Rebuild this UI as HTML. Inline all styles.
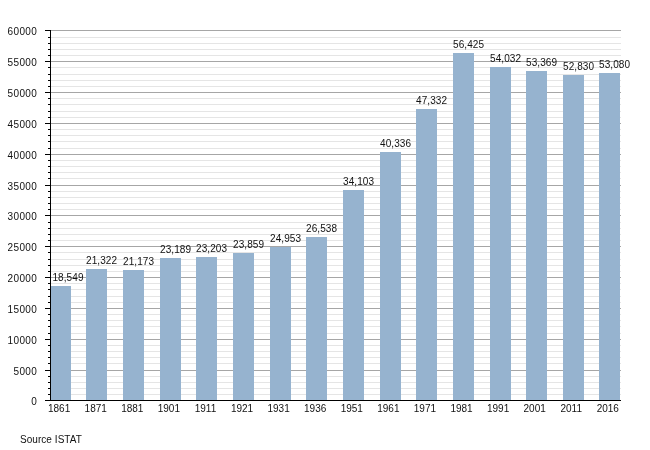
<!DOCTYPE html><html><head><meta charset="utf-8"><style>html,body{margin:0;padding:0;background:#fff;overflow:hidden;}svg{display:block;will-change:transform;}text{font-family:"Liberation Sans",sans-serif;}</style></head><body>
<svg width="650" height="450" viewBox="0 0 650 450" shape-rendering="crispEdges">
<rect width="650" height="450" fill="#fff"/>
<rect x="51" y="394" width="570" height="1" fill="#e5e5e5"/>
<rect x="51" y="388" width="570" height="1" fill="#e5e5e5"/>
<rect x="51" y="382" width="570" height="1" fill="#e5e5e5"/>
<rect x="51" y="376" width="570" height="1" fill="#e5e5e5"/>
<rect x="51" y="370" width="570" height="1" fill="#a6a6a6"/>
<rect x="51" y="363" width="570" height="1" fill="#e5e5e5"/>
<rect x="51" y="357" width="570" height="1" fill="#e5e5e5"/>
<rect x="51" y="351" width="570" height="1" fill="#e5e5e5"/>
<rect x="51" y="345" width="570" height="1" fill="#e5e5e5"/>
<rect x="51" y="339" width="570" height="1" fill="#a6a6a6"/>
<rect x="51" y="333" width="570" height="1" fill="#e5e5e5"/>
<rect x="51" y="326" width="570" height="1" fill="#e5e5e5"/>
<rect x="51" y="320" width="570" height="1" fill="#e5e5e5"/>
<rect x="51" y="314" width="570" height="1" fill="#e5e5e5"/>
<rect x="51" y="308" width="570" height="1" fill="#a6a6a6"/>
<rect x="51" y="302" width="570" height="1" fill="#e5e5e5"/>
<rect x="51" y="296" width="570" height="1" fill="#e5e5e5"/>
<rect x="51" y="289" width="570" height="1" fill="#e5e5e5"/>
<rect x="51" y="283" width="570" height="1" fill="#e5e5e5"/>
<rect x="51" y="277" width="570" height="1" fill="#a6a6a6"/>
<rect x="51" y="271" width="570" height="1" fill="#e5e5e5"/>
<rect x="51" y="265" width="570" height="1" fill="#e5e5e5"/>
<rect x="51" y="259" width="570" height="1" fill="#e5e5e5"/>
<rect x="51" y="252" width="570" height="1" fill="#e5e5e5"/>
<rect x="51" y="246" width="570" height="1" fill="#a6a6a6"/>
<rect x="51" y="240" width="570" height="1" fill="#e5e5e5"/>
<rect x="51" y="234" width="570" height="1" fill="#e5e5e5"/>
<rect x="51" y="228" width="570" height="1" fill="#e5e5e5"/>
<rect x="51" y="222" width="570" height="1" fill="#e5e5e5"/>
<rect x="51" y="215" width="570" height="1" fill="#a6a6a6"/>
<rect x="51" y="209" width="570" height="1" fill="#e5e5e5"/>
<rect x="51" y="203" width="570" height="1" fill="#e5e5e5"/>
<rect x="51" y="197" width="570" height="1" fill="#e5e5e5"/>
<rect x="51" y="191" width="570" height="1" fill="#e5e5e5"/>
<rect x="51" y="185" width="570" height="1" fill="#a6a6a6"/>
<rect x="51" y="178" width="570" height="1" fill="#e5e5e5"/>
<rect x="51" y="172" width="570" height="1" fill="#e5e5e5"/>
<rect x="51" y="166" width="570" height="1" fill="#e5e5e5"/>
<rect x="51" y="160" width="570" height="1" fill="#e5e5e5"/>
<rect x="51" y="154" width="570" height="1" fill="#a6a6a6"/>
<rect x="51" y="148" width="570" height="1" fill="#e5e5e5"/>
<rect x="51" y="141" width="570" height="1" fill="#e5e5e5"/>
<rect x="51" y="135" width="570" height="1" fill="#e5e5e5"/>
<rect x="51" y="129" width="570" height="1" fill="#e5e5e5"/>
<rect x="51" y="123" width="570" height="1" fill="#a6a6a6"/>
<rect x="51" y="117" width="570" height="1" fill="#e5e5e5"/>
<rect x="51" y="111" width="570" height="1" fill="#e5e5e5"/>
<rect x="51" y="104" width="570" height="1" fill="#e5e5e5"/>
<rect x="51" y="98" width="570" height="1" fill="#e5e5e5"/>
<rect x="51" y="92" width="570" height="1" fill="#a6a6a6"/>
<rect x="51" y="86" width="570" height="1" fill="#e5e5e5"/>
<rect x="51" y="80" width="570" height="1" fill="#e5e5e5"/>
<rect x="51" y="74" width="570" height="1" fill="#e5e5e5"/>
<rect x="51" y="67" width="570" height="1" fill="#e5e5e5"/>
<rect x="51" y="61" width="570" height="1" fill="#a6a6a6"/>
<rect x="51" y="55" width="570" height="1" fill="#e5e5e5"/>
<rect x="51" y="49" width="570" height="1" fill="#e5e5e5"/>
<rect x="51" y="43" width="570" height="1" fill="#e5e5e5"/>
<rect x="51" y="37" width="570" height="1" fill="#e5e5e5"/>
<rect x="51" y="30" width="570" height="1" fill="#a6a6a6"/>
<rect x="50" y="286" width="21" height="114" fill="#96b3cf"/>
<rect x="86" y="269" width="21" height="131" fill="#96b3cf"/>
<rect x="123" y="270" width="21" height="130" fill="#96b3cf"/>
<rect x="160" y="258" width="21" height="142" fill="#96b3cf"/>
<rect x="196" y="257" width="21" height="143" fill="#96b3cf"/>
<rect x="233" y="253" width="21" height="147" fill="#96b3cf"/>
<rect x="270" y="247" width="21" height="153" fill="#96b3cf"/>
<rect x="306" y="237" width="21" height="163" fill="#96b3cf"/>
<rect x="343" y="190" width="21" height="210" fill="#96b3cf"/>
<rect x="380" y="152" width="21" height="248" fill="#96b3cf"/>
<rect x="416" y="109" width="21" height="291" fill="#96b3cf"/>
<rect x="453" y="53" width="21" height="347" fill="#96b3cf"/>
<rect x="490" y="67" width="21" height="333" fill="#96b3cf"/>
<rect x="526" y="71" width="21" height="329" fill="#96b3cf"/>
<rect x="563" y="75" width="21" height="325" fill="#96b3cf"/>
<rect x="599" y="73" width="21" height="327" fill="#96b3cf"/>
<rect x="50" y="30" width="1" height="371" fill="#000"/>
<rect x="45" y="400" width="576" height="1" fill="#000"/>
<rect x="45" y="400" width="5" height="1" fill="#000"/>
<rect x="48" y="394" width="2" height="1" fill="#000"/>
<rect x="48" y="388" width="2" height="1" fill="#000"/>
<rect x="48" y="382" width="2" height="1" fill="#000"/>
<rect x="48" y="376" width="2" height="1" fill="#000"/>
<rect x="45" y="370" width="5" height="1" fill="#000"/>
<rect x="48" y="363" width="2" height="1" fill="#000"/>
<rect x="48" y="357" width="2" height="1" fill="#000"/>
<rect x="48" y="351" width="2" height="1" fill="#000"/>
<rect x="48" y="345" width="2" height="1" fill="#000"/>
<rect x="45" y="339" width="5" height="1" fill="#000"/>
<rect x="48" y="333" width="2" height="1" fill="#000"/>
<rect x="48" y="326" width="2" height="1" fill="#000"/>
<rect x="48" y="320" width="2" height="1" fill="#000"/>
<rect x="48" y="314" width="2" height="1" fill="#000"/>
<rect x="45" y="308" width="5" height="1" fill="#000"/>
<rect x="48" y="302" width="2" height="1" fill="#000"/>
<rect x="48" y="296" width="2" height="1" fill="#000"/>
<rect x="48" y="289" width="2" height="1" fill="#000"/>
<rect x="48" y="283" width="2" height="1" fill="#000"/>
<rect x="45" y="277" width="5" height="1" fill="#000"/>
<rect x="48" y="271" width="2" height="1" fill="#000"/>
<rect x="48" y="265" width="2" height="1" fill="#000"/>
<rect x="48" y="259" width="2" height="1" fill="#000"/>
<rect x="48" y="252" width="2" height="1" fill="#000"/>
<rect x="45" y="246" width="5" height="1" fill="#000"/>
<rect x="48" y="240" width="2" height="1" fill="#000"/>
<rect x="48" y="234" width="2" height="1" fill="#000"/>
<rect x="48" y="228" width="2" height="1" fill="#000"/>
<rect x="48" y="222" width="2" height="1" fill="#000"/>
<rect x="45" y="215" width="5" height="1" fill="#000"/>
<rect x="48" y="209" width="2" height="1" fill="#000"/>
<rect x="48" y="203" width="2" height="1" fill="#000"/>
<rect x="48" y="197" width="2" height="1" fill="#000"/>
<rect x="48" y="191" width="2" height="1" fill="#000"/>
<rect x="45" y="185" width="5" height="1" fill="#000"/>
<rect x="48" y="178" width="2" height="1" fill="#000"/>
<rect x="48" y="172" width="2" height="1" fill="#000"/>
<rect x="48" y="166" width="2" height="1" fill="#000"/>
<rect x="48" y="160" width="2" height="1" fill="#000"/>
<rect x="45" y="154" width="5" height="1" fill="#000"/>
<rect x="48" y="148" width="2" height="1" fill="#000"/>
<rect x="48" y="141" width="2" height="1" fill="#000"/>
<rect x="48" y="135" width="2" height="1" fill="#000"/>
<rect x="48" y="129" width="2" height="1" fill="#000"/>
<rect x="45" y="123" width="5" height="1" fill="#000"/>
<rect x="48" y="117" width="2" height="1" fill="#000"/>
<rect x="48" y="111" width="2" height="1" fill="#000"/>
<rect x="48" y="104" width="2" height="1" fill="#000"/>
<rect x="48" y="98" width="2" height="1" fill="#000"/>
<rect x="45" y="92" width="5" height="1" fill="#000"/>
<rect x="48" y="86" width="2" height="1" fill="#000"/>
<rect x="48" y="80" width="2" height="1" fill="#000"/>
<rect x="48" y="74" width="2" height="1" fill="#000"/>
<rect x="48" y="67" width="2" height="1" fill="#000"/>
<rect x="45" y="61" width="5" height="1" fill="#000"/>
<rect x="48" y="55" width="2" height="1" fill="#000"/>
<rect x="48" y="49" width="2" height="1" fill="#000"/>
<rect x="48" y="43" width="2" height="1" fill="#000"/>
<rect x="48" y="37" width="2" height="1" fill="#000"/>
<rect x="45" y="30" width="5" height="1" fill="#000"/>
<g font-size="10" fill="#111" shape-rendering="auto"><text x="31.14" y="404.5">0</text>
<text x="13.49 19.38 25.26 31.14" y="374.5">5000</text>
<text x="7.61 13.49 19.38 25.26 31.14" y="343.5">10000</text>
<text x="7.61 13.49 19.38 25.26 31.14" y="312.5">15000</text>
<text x="7.61 13.49 19.38 25.26 31.14" y="281.5">20000</text>
<text x="7.61 13.49 19.38 25.26 31.14" y="250.5">25000</text>
<text x="7.61 13.49 19.38 25.26 31.14" y="219.5">30000</text>
<text x="7.61 13.49 19.38 25.26 31.14" y="189.5">35000</text>
<text x="7.61 13.49 19.38 25.26 31.14" y="158.5">40000</text>
<text x="7.61 13.49 19.38 25.26 31.14" y="127.5">45000</text>
<text x="7.61 13.49 19.38 25.26 31.14" y="96.5">50000</text>
<text x="7.61 13.49 19.38 25.26 31.14" y="65.5">55000</text>
<text x="7.61 13.49 19.38 25.26 31.14" y="34.5">60000</text>
<text x="59.13" y="411.8" text-anchor="middle">1861</text>
<text x="95.71" y="411.8" text-anchor="middle">1871</text>
<text x="132.29" y="411.8" text-anchor="middle">1881</text>
<text x="168.87" y="411.8" text-anchor="middle">1901</text>
<text x="205.45" y="411.8" text-anchor="middle">1911</text>
<text x="242.03" y="411.8" text-anchor="middle">1921</text>
<text x="278.60" y="411.8" text-anchor="middle">1931</text>
<text x="315.18" y="411.8" text-anchor="middle">1936</text>
<text x="351.76" y="411.8" text-anchor="middle">1951</text>
<text x="388.34" y="411.8" text-anchor="middle">1961</text>
<text x="424.92" y="411.8" text-anchor="middle">1971</text>
<text x="461.50" y="411.8" text-anchor="middle">1981</text>
<text x="498.08" y="411.8" text-anchor="middle">1991</text>
<text x="534.66" y="411.8" text-anchor="middle">2001</text>
<text x="571.24" y="411.8" text-anchor="middle">2011</text>
<text x="607.82" y="411.8" text-anchor="middle">2016</text>
<text x="52.4" y="281" letter-spacing="0.1">18,549</text>
<text x="86" y="264" letter-spacing="0.1">21,322</text>
<text x="123" y="265" letter-spacing="0.1">21,173</text>
<text x="160" y="253" letter-spacing="0.1">23,189</text>
<text x="196" y="252" letter-spacing="0.1">23,203</text>
<text x="233" y="248" letter-spacing="0.1">23,859</text>
<text x="270" y="242" letter-spacing="0.1">24,953</text>
<text x="306" y="232" letter-spacing="0.1">26,538</text>
<text x="343" y="185" letter-spacing="0.1">34,103</text>
<text x="380" y="147" letter-spacing="0.1">40,336</text>
<text x="416" y="104" letter-spacing="0.1">47,332</text>
<text x="453" y="48" letter-spacing="0.1">56,425</text>
<text x="490" y="62" letter-spacing="0.1">54,032</text>
<text x="526" y="66" letter-spacing="0.1">53,369</text>
<text x="563" y="70" letter-spacing="0.1">52,830</text>
<text x="599" y="68" letter-spacing="0.1">53,080</text>
<text x="20" y="442.8" letter-spacing="0.05">Source ISTAT</text></g>
</svg></body></html>
